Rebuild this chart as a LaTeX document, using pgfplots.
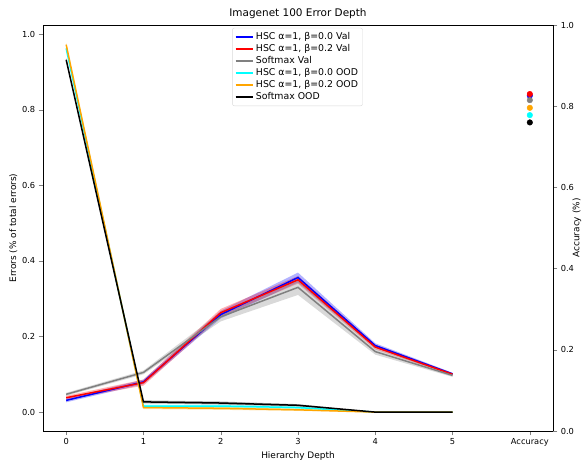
\documentclass[border=0pt]{standalone}
\usepackage{fontspec}
\setmainfont{DejaVu Sans}
\usepackage{pgfplots}
\usepackage{pgfplotstable}
\pgfplotsset{compat=1.18}
\usepgfplotslibrary{fillbetween}

\pgfplotstableread{
x y e
0 0.031 0.005
1 0.080 0.006
2 0.258 0.010
3 0.356 0.013
4 0.176 0.006
5 0.101 0.003
}\bluev
\pgfplotstableread{
x y e
0 0.038 0.005
1 0.078 0.008
2 0.263 0.010
3 0.350 0.010
4 0.172 0.006
5 0.100 0.003
}\redv
\pgfplotstableread{
x y e
0 0.047 0.004
1 0.105 0.005
2 0.252 0.012
3 0.330 0.020
4 0.160 0.008
5 0.097 0.004
}\grayv
\pgfplotstableread{
x y e
0 0.962 0.004
1 0.016 0.004
2 0.016 0.004
3 0.012 0.003
4 0.000 0.000
5 0.000 0.000
}\cyano
\pgfplotstableread{
x y e
0 0.972 0.004
1 0.012 0.004
2 0.010 0.004
3 0.006 0.003
4 0.000 0.000
5 0.000 0.000
}\orangeo
\pgfplotstableread{
x y e
0 0.932 0.004
1 0.027 0.004
2 0.024 0.004
3 0.018 0.003
4 0.000 0.000
5 0.000 0.000
}\blacko

\definecolor{mplorange}{RGB}{255,165,0}
\definecolor{mplgray}{RGB}{128,128,128}
\definecolor{mplcyan}{RGB}{0,255,255}
\definecolor{mplblue}{RGB}{0,0,255}
\definecolor{mplred}{RGB}{255,0,0}

\newcommand\band[3]{%
  \addplot[name path=#1u, draw=none, forget plot] table[x=x, y expr=\thisrow{y}+\thisrow{e}]{#2};
  \addplot[name path=#1l, draw=none, forget plot] table[x=x, y expr=\thisrow{y}-\thisrow{e}]{#2};
  \addplot[#3, draw=none, fill opacity=0.3, forget plot] fill between[of=#1u and #1l];
}

\begin{document}
\begin{tikzpicture}
\begin{axis}[
  name=ax,
  width=510bp, height=406bp, scale only axis,
  xmin=-0.3, xmax=6.3, ymin=-0.05, ymax=1.024,
  xtick={0,1,2,3,4,5,6},
  xticklabels={0,1,2,3,4,5,Accuracy},
  ytick={0,0.2,0.4,0.6,0.8,1.0},
  yticklabel style={/pgf/number format/.cd, fixed, fixed zerofill, precision=1},
  /pgf/number format/assume math mode=true,
  tick align=outside, tick pos=left,
  ticklabel style={font=\fontsize{8.3}{10}\selectfont},
  label style={font=\fontsize{9}{11}\selectfont},
  title={Imagenet 100 Error Depth},
  title style={font=\fontsize{10.5}{12}\selectfont, yshift=-3bp},
  xlabel={Hierarchy Depth},
  xlabel style={yshift=2bp},
  ylabel={Errors (\% of total errors)},
  ylabel style={yshift=-2bp},
  legend style={at={(0.499,0.993)}, anchor=north, font=\fontsize{9.4}{11}\selectfont,
    draw=black!15, rounded corners=2pt, row sep=-0.6pt, inner sep=2.5pt},
  legend cell align=left,
  legend image code/.code={\draw[#1] (0cm,0cm) -- (0.62cm,0cm);},
]
\addlegendimage{mplblue, line width=1.5bp}
\addlegendentry{HSC α=1, β=0.0 Val}
\addlegendimage{mplred, line width=1.5bp}
\addlegendentry{HSC α=1, β=0.2 Val}
\addlegendimage{mplgray, line width=1.5bp}
\addlegendentry{Softmax Val}
\addlegendimage{mplcyan, line width=1.5bp}
\addlegendentry{HSC α=1, β=0.0 OOD}
\addlegendimage{mplorange, line width=1.5bp}
\addlegendentry{HSC α=1, β=0.2 OOD}
\addlegendimage{black, line width=1.5bp}
\addlegendentry{Softmax OOD}
\band{bv}{\bluev}{mplblue}
\band{rv}{\redv}{mplred}
\band{gv}{\grayv}{mplgray}
\band{co}{\cyano}{mplcyan}
\band{oo}{\orangeo}{mplorange}
\band{ko}{\blacko}{black}
\addplot[mplblue, line width=1.5bp, forget plot] table[x=x,y=y]{\bluev};
\addplot[mplred, line width=1.5bp, forget plot] table[x=x,y=y]{\redv};
\addplot[mplgray, line width=1.5bp, forget plot] table[x=x,y=y]{\grayv};
\addplot[mplcyan, line width=1.5bp, forget plot] table[x=x,y=y]{\cyano};
\addplot[mplorange, line width=1.5bp, forget plot] table[x=x,y=y]{\orangeo};
\addplot[black, line width=1.5bp, forget plot] table[x=x,y=y]{\blacko};
\end{axis}
\begin{axis}[
  width=510bp, height=406bp, scale only axis,
  xmin=-0.3, xmax=6.3, ymin=0, ymax=1,
  hide x axis,
  axis y line*=right,
  ytick={0,0.2,0.4,0.6,0.8,1.0},
  yticklabel style={/pgf/number format/.cd, fixed, fixed zerofill, precision=1},
  /pgf/number format/assume math mode=true,
  tick align=outside,
  ticklabel style={font=\fontsize{8.3}{10}\selectfont},
  ylabel={Accuracy (\%)},
  ylabel style={at={(axis description cs:1.038,0.5)}, anchor=north, inner sep=0pt,
    font=\fontsize{9}{11}\selectfont},
]
\addplot[only marks, mark=*, mark size=2.8bp, mplblue] coordinates {(6,0.826)};
\addplot[only marks, mark=*, mark size=2.8bp, mplred] coordinates {(6,0.830)};
\addplot[only marks, mark=*, mark size=2.8bp, mplgray] coordinates {(6,0.815)};
\addplot[only marks, mark=*, mark size=2.8bp, mplcyan] coordinates {(6,0.778)};
\addplot[only marks, mark=*, mark size=2.8bp, mplorange] coordinates {(6,0.796)};
\addplot[only marks, mark=*, mark size=2.8bp, black] coordinates {(6,0.760)};
\end{axis}
\pgfresetboundingbox
\path ([shift={(-43bp,-29bp)}]ax.south west) rectangle ([shift={(32bp,25bp)}]ax.north east);
\end{tikzpicture}
\end{document}
